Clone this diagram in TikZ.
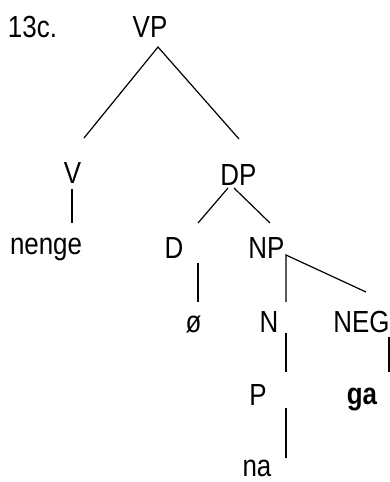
\documentclass[tikz,border=0pt]{standalone}
\usepackage{fontspec}
\setmainfont[FakeStretch=0.85]{Liberation Sans}
\begin{document}
\begin{tikzpicture}[x=1pt,y=-1pt,
  lbl/.style={inner sep=0pt,outer sep=0pt,anchor=base,font=\fontsize{30.5}{36}\selectfont},
  branch/.style={line width=1.2pt,line cap=butt}]
\useasboundingbox (0,0) rectangle (390,482);

% labels
\node[lbl,anchor=base west] (ex) at (8,37) {13c.};
\node[lbl] (vp) at (150,37) {VP};
\node[lbl] (v) at (72.5,183) {V};
\node[lbl] (dp) at (238.5,185) {DP};
\node[lbl,anchor=base west] (nenge) at (10,254) {nenge};
\node[lbl] (d) at (174,258) {D};
\node[lbl] (np) at (266.5,258) {NP};
\node[lbl] (null) at (193.5,332) {ø};
\node[lbl] (n) at (269,332) {N};
\node[lbl,anchor=base east] (neg) at (389.5,332) {NEG};
\node[lbl] (p) at (258,405) {P};
\node[lbl,font=\fontsize{30.5}{36}\selectfont\bfseries] (ga) at (362,404) {ga};
\node[lbl] (na) at (257,476) {na};

% branch end points
\coordinate (vp-top) at (158,47);
\coordinate (v-top) at (84,138);
\coordinate (dp-top) at (239,139);
\coordinate (v-bot) at (72,189);
\coordinate (nenge-top) at (72,223);
\coordinate (dp-l) at (228,188);
\coordinate (dp-r) at (234,188);
\coordinate (d-top) at (198,223);
\coordinate (np-top) at (270,223);
\coordinate (d-bot) at (198,263);
\coordinate (null-top) at (198,302);
\coordinate (np-bot) at (286,255);
\coordinate (n-top) at (286,302);
\coordinate (neg-top) at (366,292);
\coordinate (n-bot) at (286,333);
\coordinate (p-top) at (286,372);
\coordinate (neg-bot) at (389,337);
\coordinate (ga-top) at (389,372);
\coordinate (p-bot) at (286,408);
\coordinate (na-top) at (286,458);

% branches
\draw[branch] (v-top) -- (vp-top) -- (dp-top);
\draw[branch] (v-bot) -- (nenge-top);
\draw[branch] (dp-l) -- (d-top);
\draw[branch] (dp-r) -- (np-top);
\draw[branch] (d-bot) -- (null-top);
\draw[branch] (n-top) -- (np-bot) -- (neg-top);
\draw[branch] (n-bot) -- (p-top);
\draw[branch] (neg-bot) -- (ga-top);
\draw[branch] (p-bot) -- (na-top);
\end{tikzpicture}
\end{document}
